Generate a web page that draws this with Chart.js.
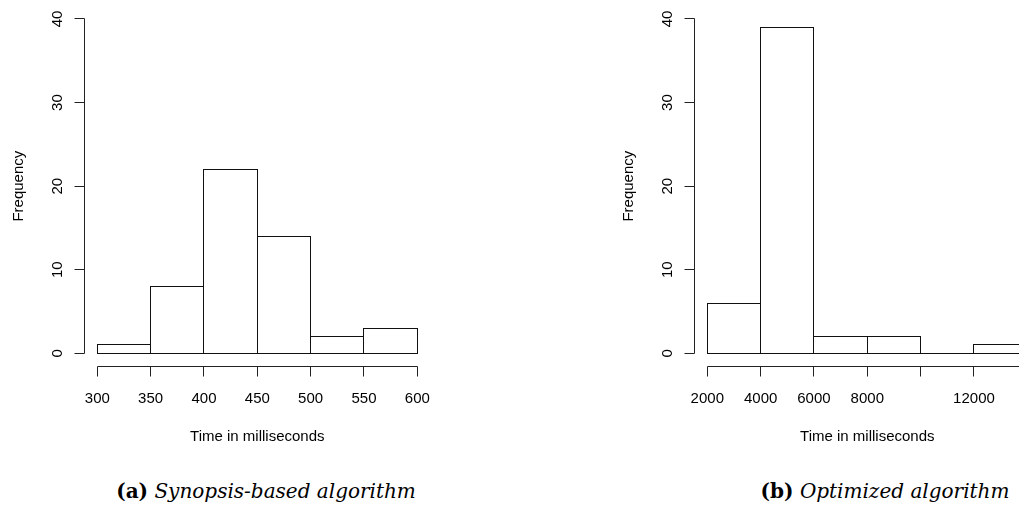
<!DOCTYPE html>
<html>
<head>
<meta charset="utf-8">
<script src="https://cdn.jsdelivr.net/npm/chart.js@4.4.1/dist/chart.umd.min.js"></script>
<style>
    html, body { margin: 0; padding: 0; background: #fff; }
    #page { position: relative; width: 1019px; height: 507px; overflow: hidden; background: #fff; }
    #page canvas { position: absolute; top: 0; }
    #hist-a { left: 0; }
    #hist-b { left: 610px; }
    .caption {
        position: absolute;
        top: 481px;
        font-family: 'DejaVu Serif', serif;
        font-size: 20px;
        line-height: 20px;
        white-space: nowrap;
        color: #000;
        transform: translateX(-50%);
    }
    .caption b { font-style: normal; }
</style>
</head>
<body>
<div id="page">
    <canvas id="hist-a" width="520" height="460"></canvas>
    <canvas id="hist-b" width="520" height="460"></canvas>
    <div class="caption" style="left:266px"><b>(a)</b> <i>Synopsis-based algorithm</i></div>
    <div class="caption" style="left:885px"><b>(b)</b> <i>Optimized algorithm</i></div>
</div>
<script>
// Synopsis-based run times (ms): bin edges and counts
const synopsisEdges = [300, 350, 400, 450, 500, 550, 600];
const synopsisCounts = [1, 8, 22, 14, 2, 3];
const synopsisTickLabels = ['300', '350', '400', '450', '500', '550', '600'];

// Optimized run times (ms)
const optimizedEdges = [2000, 4000, 6000, 8000, 10000, 12000, 14000];
const optimizedCounts = [6, 39, 2, 2, 0, 1];
const optimizedTickLabels = ['2000', '4000', '6000', '8000', '', '12000', ''];

const freqTicks = [0, 10, 20, 30, 40];
const freqTickLabels = ['0', '10', '20', '30', '40'];

const xTitle = 'Time in milliseconds';
const yTitle = 'Frequency';

const FONT = '15px "Liberation Sans", Arial, sans-serif';
const snap = v => Math.floor(v) + 0.5;

// base-graphics look: open bars, axes offset from the data, rotated y labels
const rAxes = {
    id: 'rAxes',
    afterDatasetsDraw(chart, args, opts) {
        const ctx = chart.ctx;
        const xs = chart.scales.x;
        const ys = chart.scales.y;
        const area = chart.chartArea;

        ctx.save();
        ctx.lineWidth = 1;

        // bar outlines (zero-height bins come out as a flat line)
        ctx.strokeStyle = '#111';
        chart.getDatasetMeta(0).data.forEach(bar => {
            const l = snap(bar.x - bar.width / 2);
            const r = snap(bar.x + bar.width / 2);
            const t = snap(bar.y);
            const b = snap(bar.base);
            ctx.strokeRect(l, t, r - l, b - t);
        });

        ctx.strokeStyle = '#222';
        ctx.fillStyle = '#000';
        ctx.font = FONT;

        // x axis
        const axY = snap(area.bottom);
        const xPix = opts.xTicks.map(v => snap(xs.getPixelForValue(v)));
        ctx.beginPath();
        ctx.moveTo(xPix[0], axY);
        ctx.lineTo(xPix[xPix.length - 1], axY);
        xPix.forEach(px => {
            ctx.moveTo(px, axY);
            ctx.lineTo(px, axY + 10);
        });
        ctx.stroke();

        ctx.textAlign = 'center';
        ctx.textBaseline = 'alphabetic';
        opts.xTicks.forEach((v, i) => {
            if (opts.xLabels[i]) ctx.fillText(opts.xLabels[i], xs.getPixelForValue(v), area.bottom + 36.5);
        });
        ctx.fillText(opts.xTitle, (area.left + area.right) / 2, area.bottom + 74);

        // y axis
        const axX = snap(area.left);
        const yPix = opts.yTicks.map(v => snap(ys.getPixelForValue(v)));
        ctx.beginPath();
        ctx.moveTo(axX, yPix[0]);
        ctx.lineTo(axX, yPix[yPix.length - 1]);
        yPix.forEach(py => {
            ctx.moveTo(axX, py);
            ctx.lineTo(axX - 10, py);
        });
        ctx.stroke();

        opts.yTicks.forEach((v, i) => {
            ctx.save();
            ctx.translate(area.left - 22.8, ys.getPixelForValue(v));
            ctx.rotate(-Math.PI / 2);
            ctx.fillText(opts.yLabels[i], 0, 0);
            ctx.restore();
        });

        ctx.save();
        ctx.translate(area.left - 62, (area.top + area.bottom) / 2);
        ctx.rotate(-Math.PI / 2);
        ctx.fillText(opts.yTitle, 0, 0);
        ctx.restore();

        ctx.restore();
    }
};

function makeHistogram(canvasId, edges, counts, tickLabels) {
    const bins = counts.map((c, i) => ({ x: (edges[i] + edges[i + 1]) / 2, y: c }));
    const lo = edges[0];
    const hi = edges[edges.length - 1];
    const xPad = (hi - lo) * 0.04;
    const yMax = freqTicks[freqTicks.length - 1];
    const yPad = yMax * 0.04;

    return new Chart(document.getElementById(canvasId), {
        type: 'bar',
        data: {
            datasets: [{
                data: bins,
                backgroundColor: '#fff',
                borderWidth: 0,
                barPercentage: 1,
                categoryPercentage: 1
            }]
        },
        options: {
            responsive: false,
            animation: false,
            devicePixelRatio: 1,
            events: [],
            layout: { padding: { left: 84.5, top: 5.6, right: 89.9, bottom: 93.3 } },
            plugins: {
                legend: { display: false },
                tooltip: { enabled: false },
                rAxes: {
                    xTicks: edges,
                    xLabels: tickLabels,
                    yTicks: freqTicks,
                    yLabels: freqTickLabels,
                    xTitle: xTitle,
                    yTitle: yTitle
                }
            },
            scales: {
                x: {
                    type: 'linear',
                    display: false,
                    offset: false,
                    min: lo - xPad,
                    max: hi + xPad,
                    afterBuildTicks: s => { s.ticks = edges.map(v => ({ value: v })); }
                },
                y: {
                    type: 'linear',
                    display: false,
                    min: -yPad,
                    max: yMax + yPad,
                    afterBuildTicks: s => { s.ticks = freqTicks.map(v => ({ value: v })); }
                }
            }
        },
        plugins: [rAxes]
    });
}

makeHistogram('hist-a', synopsisEdges, synopsisCounts, synopsisTickLabels);
makeHistogram('hist-b', optimizedEdges, optimizedCounts, optimizedTickLabels);
</script>
</body>
</html>
